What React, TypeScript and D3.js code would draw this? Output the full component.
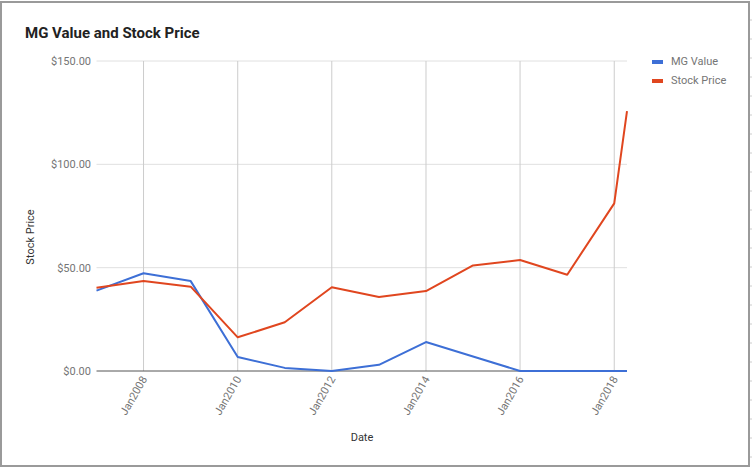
import React from "react";
import * as d3 from "d3";

const title = "MG Value and Stock Price";
const dates: Date[] = [
  new Date(2007, 0, 1), new Date(2008, 0, 1), new Date(2009, 0, 1), new Date(2010, 0, 1),
  new Date(2011, 0, 1), new Date(2012, 0, 1), new Date(2013, 0, 1), new Date(2014, 0, 1),
  new Date(2015, 0, 1), new Date(2016, 0, 1), new Date(2017, 0, 1), new Date(2018, 0, 1),
  new Date(2018, 3, 10),
];
const mgValue = [38.9, 47.3, 43.5, 6.8, 1.5, 0, 3.0, 14.0, 7.0, 0, 0, 0, 0];
const stockPrice = [40.3, 43.5, 40.8, 16.3, 23.6, 40.5, 35.8, 38.7, 51.1, 53.7, 46.6, 81.1, 125.8];
const yTicks = [0, 50, 100, 150];
const xTickYears = [2008, 2010, 2012, 2014, 2016, 2018];
const seriesNames = ["MG Value", "Stock Price"];
const colors = ["#3d6fd6", "#e0461f"];

export default function App() {
  const W = 752, H = 469;
  const x = d3.scaleTime().domain([dates[0], dates[dates.length - 1]]).range([96.5, 627]);
  const y = d3.scaleLinear().domain([0, 150]).range([371, 61]);
  const line = d3.line<number>().x((_, i) => x(dates[i])).y((v) => y(v));
  const series = [mgValue, stockPrice];
  const font = "Roboto, Arial, sans-serif";
  const edgeTicks = d3.range(20, 466, 19);
  return (
    <svg width={W} height={H} style={{ position: "fixed", left: 0, top: 0, background: "#fff" }} fontFamily={font}>
      <rect x={0} y={0} width={W} height={H} fill="#fff" />
      {edgeTicks.map((t) => (
        <g key={t}>
          <line x1={0} x2={1} y1={t} y2={t} stroke="#ccc" />
          <line x1={750} x2={752} y1={t} y2={t} stroke="#ccc" />
        </g>
      ))}
      <rect x={1} y={2} width={748} height={464} fill="#fff" stroke="#9a9a9a" strokeWidth={2} />
      <text x={25} y={38} fontSize={15} fontWeight="bold" fill="#222">{title}</text>
      {yTicks.map((t) => (
        <g key={t}>
          {t !== 0 && <line x1={96.5} x2={627} y1={y(t)} y2={y(t)} stroke="#e0e0e0" strokeWidth={1} />}
          <text x={91} y={y(t) + 4} fontSize={11} fill="#757575" textAnchor="end">
            {d3.format("$.2f")(t)}
          </text>
        </g>
      ))}
      {xTickYears.map((yr) => {
        const px = x(new Date(yr, 0, 1));
        return (
          <g key={yr}>
            <line x1={px} x2={px} y1={61} y2={371} stroke="#cccccc" strokeWidth={1} />
            <text
              transform={`translate(${px + 4},${379}) rotate(-60)`}
              fontSize={11}
              fill="#757575"
              textAnchor="end"
            >
              {"Jan" + yr}
            </text>
          </g>
        );
      })}
      <line x1={96.5} x2={627} y1={y(0)} y2={y(0)} stroke="#555" strokeWidth={1} />
      {series.map((s, i) => (
        <path key={i} d={line(s) || ""} fill="none" stroke={colors[i]} strokeWidth={2} strokeLinejoin="round" />
      ))}
      <text x={362} y={441} fontSize={11} fill="#333" textAnchor="middle">Date</text>
      <text transform="translate(34,237) rotate(-90)" fontSize={11} fill="#333" textAnchor="middle">Stock Price</text>
      {seriesNames.map((n, i) => (
        <g key={n}>
          <rect x={652} y={60 + i * 19} width={11} height={4} fill={colors[i]} />
          <text x={671} y={65 + i * 19} fontSize={11} fill="#757575">{n}</text>
        </g>
      ))}
    </svg>
  );
}
